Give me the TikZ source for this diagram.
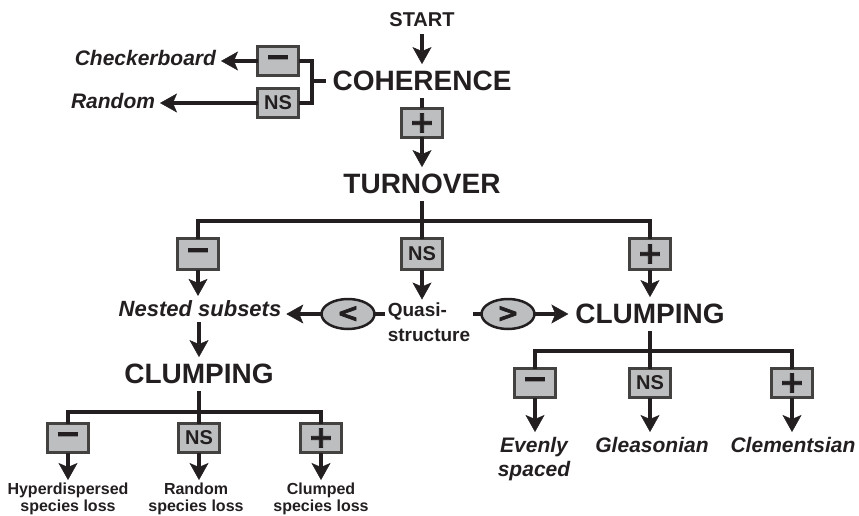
\documentclass[tikz,border=0pt]{standalone}
\usepackage{fontspec}
\setmainfont{Liberation Sans}
\newfontfamily\signfont[FakeBold=2.5]{DejaVu Sans}
\usetikzlibrary{shapes.geometric, arrows.meta, positioning}
\definecolor{ink}{RGB}{35,31,32}
\definecolor{boxgray}{RGB}{188,190,192}
\tikzstyle{title} = [font=\fontsize{28}{30}\selectfont\bfseries, text=ink, inner sep=0pt, outer sep=7pt]
\tikzstyle{outcome} = [font=\fontsize{21}{24}\selectfont\bfseries\itshape, text=ink, align=center, inner sep=0pt, outer sep=5pt]
\tikzstyle{loss} = [font=\fontsize{16}{17}\selectfont\bfseries, text=ink, align=center, inner sep=0pt, outer sep=3pt]
\tikzstyle{sign} = [rectangle, minimum width=41pt, minimum height=29pt, inner sep=0pt, outer sep=0pt, draw=ink!85, line width=2.5pt, fill=boxgray, text=ink, font=\fontsize{20}{20}\selectfont\bfseries]
\tikzstyle{compare} = [ellipse, minimum width=53pt, minimum height=30pt, inner sep=0pt, outer sep=0pt, draw=ink, line width=2.5pt, fill=boxgray, text=ink, font=\signfont\fontsize{26}{26}\selectfont\bfseries]
\tikzstyle{line} = [line width=4.5pt, draw=ink]
\tikzstyle{arrow} = [line width=4.5pt, draw=ink, -{Stealth[length=17pt,width=19pt,inset=4pt,line width=0.5pt]}]
\newcommand{\minus}{{\signfont\fontsize{30}{30}\selectfont −}}
\newcommand{\plus}{{\signfont\fontsize{30}{30}\selectfont +}}

\begin{document}
\begin{tikzpicture}[x=1pt, y=-1pt]
\useasboundingbox (0,0) rectangle (859,516);

%% coherence
\node (start) [title, font=\fontsize{20}{22}\selectfont\bfseries] at (422,20) {START};
\node (coh) [title] at (422,81) {COHERENCE};
\node (cneg) [sign] at (278,61) {\minus};
\node (cns) [sign] at (278,103) {NS};
\node (checker) [outcome, anchor=east] at (221,58) {Checkerboard};
\node (random) [outcome, anchor=east] at (160,101) {Random};
\node (cpos) [sign] at (422,123) {\plus};
\coordinate (csplit) at (312,81);

%% turnover
\node (turn) [title] at (422,184) {TURNOVER};
\coordinate (tbar) at (422,221);
\node (tneg) [sign, minimum height=31pt] at (198,254) {\minus};
\node (tns) [sign, minimum height=31pt] at (422,254) {NS};
\node (tpos) [sign, minimum height=31pt] at (650,254) {\plus};
\node (nested) [outcome, font=\fontsize{22}{24}\selectfont\bfseries\itshape] at (200,309) {Nested subsets};
\node (quasi) [font=\fontsize{19}{25}\selectfont\bfseries, text=ink, align=left, inner sep=0pt, outer sep=3pt] at (429,322) {Quasi-\\structure};
\node (lt) [compare] at (348,314) {<};
\node (gt) [compare] at (508,314) {>};
\node (clumpR) [title] at (650,314) {CLUMPING};

%% clumping, left
\node (clumpL) [title] at (199,374) {CLUMPING};
\coordinate (lbar) at (199,412);
\node (lneg) [sign] at (68,438) {\minus};
\node (lns) [sign] at (199,438) {NS};
\node (lpos) [sign] at (321,438) {\plus};
\node (hyper) [loss, anchor=north] at (68,480) {Hyperdispersed\\species loss};
\node (randloss) [loss, anchor=north] at (196,480) {Random\\species loss};
\node (clumped) [loss, anchor=north] at (321,480) {Clumped\\species loss};

%% clumping, right
\coordinate (rbar) at (650,351);
\node (rneg) [sign] at (535,383) {\minus};
\node (rns) [sign] at (650,383) {NS};
\node (rpos) [sign] at (792,383) {\plus};
\node (even) [outcome, anchor=north] at (534,432) {Evenly\\spaced};
\node (gleason) [outcome, anchor=north] at (652,432) {Gleasonian};
\node (clement) [outcome, anchor=north] at (793,432) {Clementsian};

%% draw the chart here
\draw [arrow] (start) -- (coh);
\draw [line] (coh.west) -- (csplit);
\draw [line] (cneg.east) -| (csplit) |- (cns.east);
\draw [arrow] (cneg.west) -- (cneg.west -| checker.east);
\draw [arrow] (cns.west) -- (cns.west -| random.east);
\draw [line] (coh) -- (cpos);
\draw [arrow] (cpos) -- (turn);

\draw [line] (turn) -- (tbar);
\draw [line] (tneg) |- (tbar) -| (tpos);
\draw [line] (tbar) -- (tns);
\draw [arrow] (tneg.south) -- (tneg.south |- nested.north);
\draw [arrow] (tns.south) -- (tns.south |- quasi.north);
\draw [arrow] (tpos.south) -- (tpos.south |- clumpR.north);
\draw [line] (lt.east -| quasi.west) -- (lt.east);
\draw [arrow] (lt.west) -- (lt.west -| nested.east);
\draw [line] (gt.west -| quasi.east) -- (gt.west);
\draw [arrow] (gt.east) -- (gt.east -| clumpR.west);

\draw [arrow] (clumpL.north |- nested.south) -- (clumpL.north);
\draw [line] (clumpL) -- (lbar);
\draw [line] (lneg) |- (lbar) -| (lpos);
\draw [line] (lbar) -- (lns);
\draw [arrow] (lneg.south) -- (lneg.south |- hyper.north);
\draw [arrow] (lns.south) -- (lns.south |- randloss.north);
\draw [arrow] (lpos.south) -- (lpos.south |- clumped.north);

\draw [line] (clumpR) -- (rbar);
\draw [line] (rneg) |- (rbar) -| (rpos);
\draw [line] (rbar) -- (rns);
\draw [arrow] (rneg.south) -- (rneg.south |- even.north);
\draw [arrow] (rns.south) -- (rns.south |- gleason.north);
\draw [arrow] (rpos.south) -- (rpos.south |- clement.north);

\end{tikzpicture}
\end{document}
